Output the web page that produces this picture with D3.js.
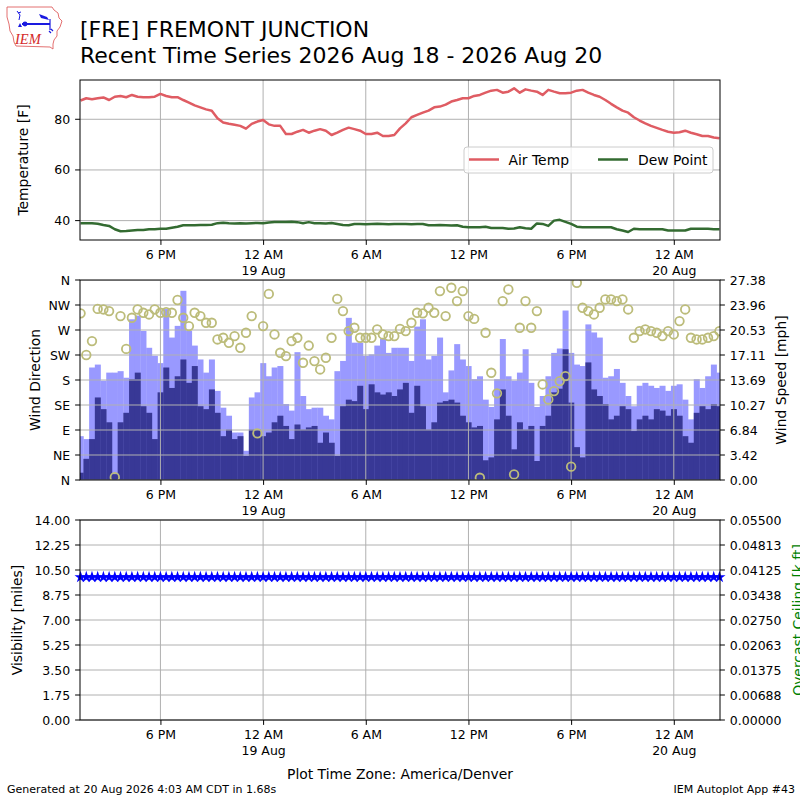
<!DOCTYPE html>
<html>
<head>
<meta charset="utf-8">
<script src="https://cdn.jsdelivr.net/npm/d3@7"></script>
<style>
  body { margin: 0; background: #fff; }
  text { font-family: "DejaVu Sans", sans-serif; }
</style>
</head>
<body>
<div id="chart"></div>
<script>
// observation times are Denver local, kept in UTC fields so the axis reads as local
const obsStartUtc = Date.UTC(2026, 7, 18, 13, 20);
const obsStepMinutes = 20;
const xDomain = [Date.UTC(2026, 7, 18, 13, 18), Date.UTC(2026, 7, 20, 2, 42)];

const airTemp = [
  87.4, 88.3, 87.9, 88.3, 88.6, 87.6, 88.9, 89.2, 88.7, 89.6,
  88.9, 88.7, 88.7, 88.9, 90.0, 89.2, 88.7, 88.7, 87.6, 86.6,
  85.5, 84.7, 83.9, 83.4, 80.4, 78.7, 78.2, 77.8, 77.4, 76.3,
  78.2, 79.1, 79.7, 78.0, 77.4, 77.4, 74.2, 74.2, 75.1, 75.8,
  74.7, 75.5, 76.1, 75.5, 73.8, 74.7, 75.8, 76.7, 76.1, 75.5,
  74.2, 74.2, 74.7, 73.4, 73.4, 73.8, 76.4, 78.4, 80.8, 81.7,
  82.6, 83.4, 84.7, 85.0, 85.8, 87.0, 87.6, 88.3, 88.3, 89.2,
  89.6, 90.5, 91.3, 91.6, 90.5, 90.9, 92.2, 90.5, 91.8, 91.3,
  90.9, 89.6, 91.6, 90.9, 90.3, 90.3, 90.5, 91.3, 91.6, 90.5,
  89.6, 88.9, 87.6, 86.1, 84.7, 83.4, 82.6, 80.8, 79.5, 78.4,
  77.4, 76.6, 75.8, 75.1, 74.7, 74.9, 75.5, 74.7, 74.1, 73.4,
  73.4, 72.8, 72.5
];
const dewPoint = [
  39.0, 39.0, 39.0, 38.8, 38.3, 37.9, 36.6, 35.8, 35.9, 36.1,
  36.3, 36.3, 36.6, 36.6, 36.8, 36.8, 37.2, 37.6, 38.2, 38.2,
  38.2, 38.3, 38.3, 38.4, 39.0, 39.2, 39.0, 38.9, 39.0, 38.9,
  39.0, 39.1, 39.0, 39.3, 39.5, 39.5, 39.5, 39.6, 39.4, 39.0,
  39.4, 39.0, 39.0, 38.9, 39.1, 38.7, 38.3, 38.2, 38.7, 38.7,
  38.6, 38.7, 38.8, 38.7, 38.6, 38.7, 38.7, 38.7, 38.6, 38.7,
  38.7, 38.2, 38.2, 38.3, 38.2, 38.1, 38.2, 37.6, 37.4, 37.4,
  37.4, 37.6, 37.1, 37.1, 37.1, 36.8, 36.9, 37.4, 37.0, 36.8,
  38.9, 38.7, 37.9, 40.0, 40.3, 39.5, 38.7, 37.6, 37.4, 37.4,
  37.4, 37.4, 37.4, 37.4, 36.6, 36.1, 35.5, 36.8, 36.6, 36.6,
  36.6, 36.6, 36.6, 36.1, 36.1, 36.1, 36.1, 36.8, 36.8, 36.8,
  36.8, 36.6, 36.6
];
const windSpeed = [
  1.0, 2.9, 5.6, 11.3, 9.7, 7.9, 0.8, 7.9, 9.2, 13.8,
  14.7, 10.1, 9.2, 5.6, 12.0, 15.4, 12.6, 14.2, 16.5, 13.3,
  15.6, 10.1, 9.7, 12.4, 9.2, 6.0, 6.9, 5.6, 6.0, 3.3,
  6.9, 6.9, 6.0, 6.5, 7.9, 8.8, 7.4, 5.6, 7.6, 6.9,
  7.2, 7.4, 5.1, 6.5, 5.1, 3.3, 10.1, 11.0, 10.8, 12.9,
  9.7, 13.1, 12.0, 11.7, 12.0, 11.5, 12.4, 13.3, 9.2, 12.9,
  10.1, 6.9, 7.9, 10.6, 10.8, 11.0, 10.6, 8.8, 7.9, 7.2,
  7.4, 2.7, 3.1, 8.3, 12.4, 8.8, 4.2, 7.9, 6.9, 7.4,
  2.6, 7.4, 8.8, 12.0, 12.5, 17.9, 10.6, 4.5, 3.1, 16.1,
  12.4, 11.5, 10.4, 8.3, 8.8, 10.1, 9.7, 6.7, 8.3, 8.8,
  8.3, 9.7, 9.5, 8.8, 9.7, 8.8, 6.0, 5.1, 9.2, 10.1,
  9.7, 10.4, 10.1
];
const windGust = [
  6.0, 5.6, 15.4, 15.8, 13.6, 14.7, 14.7, 14.9, 14.0, 22.0,
  22.5, 20.4, 18.1, 17.0, 16.0, 23.4, 19.5, 21.1, 25.9, 20.4,
  18.4, 16.5, 14.7, 16.5, 12.2, 9.9, 8.8, 6.5, 6.5, 4.0,
  11.3, 12.0, 16.0, 14.2, 15.4, 15.6, 10.4, 9.5, 17.5, 11.5,
  9.7, 9.9, 9.9, 8.8, 8.3, 14.9, 16.3, 22.2, 18.8, 18.8,
  17.0, 17.2, 18.4, 19.3, 17.4, 18.1, 18.1, 18.1, 16.3, 21.0,
  22.0, 16.5, 17.0, 19.5, 12.0, 15.0, 18.6, 16.5, 15.6, 13.8,
  14.2, 11.0, 10.0, 13.8, 19.3, 14.2, 13.6, 14.7, 17.9, 13.3,
  10.0, 11.5, 14.2, 17.4, 18.0, 23.2, 17.4, 15.8, 15.6, 21.3,
  20.2, 19.5, 14.0, 14.2, 15.2, 13.3, 11.5, 10.1, 12.9, 13.3,
  12.9, 12.6, 12.9, 12.2, 12.9, 13.1, 11.0, 8.3, 13.8, 12.6,
  14.2, 15.8, 14.7
];
const windDir = [
  300, 225, 250, 308, 307, 304, 5, 295, 236, 292,
  307, 301, 298, 307, 301, 302, 301, 324, 292, 277,
  301, 295, 283, 283, 253, 256, 247, 259, 238, 265,
  295, 84, 277, 335, 262, 229, 223, 250, 256, 211,
  242, 214, 199, 220, 256, 326, 304, 268, 274, 256,
  256, 256, 271, 262, 259, 259, 272, 268, 283, 301,
  300, 310, 301, 340, 295, 346, 322, 340, 295, 290,
  4, 265, 193, 156, 322, 343, 10, 274, 322, 274,
  304, 172, 145, 160, 178, 187, 24, 355, 310, 304,
  298, 310, 325, 325, 322, 325, 307, 256, 268, 271,
  268, 265, 259, 268, 262, 286, 307, 256, 253, 253,
  256, 259, 268
];
const visibility = [
  10, 10, 10, 10, 10, 10, 10, 10, 10, 10,
  10, 10, 10, 10, 10, 10, 10, 10, 10, 10,
  10, 10, 10, 10, 10, 10, 10, 10, 10, 10,
  10, 10, 10, 10, 10, 10, 10, 10, 10, 10,
  10, 10, 10, 10, 10, 10, 10, 10, 10, 10,
  10, 10, 10, 10, 10, 10, 10, 10, 10, 10,
  10, 10, 10, 10, 10, 10, 10, 10, 10, 10,
  10, 10, 10, 10, 10, 10, 10, 10, 10, 10,
  10, 10, 10, 10, 10, 10, 10, 10, 10, 10,
  10, 10, 10, 10, 10, 10, 10, 10, 10, 10,
  10, 10, 10, 10, 10, 10, 10, 10, 10, 10,
  10, 10, 10
];

const xTickHour = ['6 PM', '12 AM', '6 AM', '12 PM', '6 PM', '12 AM'];
const xTickDay = ['', '19 Aug', '', '', '', '20 Aug'];
const tempTicks = [40, 60, 80];
const dirTickLabels = ['N', 'NE', 'E', 'SE', 'S', 'SW', 'W', 'NW', 'N'];
const speedTickLabels = ['0.00', '3.42', '6.84', '10.27', '13.69', '17.11', '20.53', '23.96', '27.38'];
const visTickLabels = ['0.00', '1.75', '3.50', '5.25', '7.00', '8.75', '10.50', '12.25', '14.00'];
const ceilTickLabels = ['0.00000', '0.00688', '0.01375', '0.02063', '0.02750', '0.03438', '0.04125', '0.04813', '0.05500'];

function makeChart(){
  let w = 800, h = 800;
  let left = 80, right = 720;
  let font = '"DejaVu Sans", sans-serif';
  let tick = 4.9;
  let gridColor = '#b0b0b0';

  let svg = d3.select('#chart').append('svg').attr('width', w).attr('height', h);

  let times = airTemp.map((d, i) => new Date(obsStartUtc + i * obsStepMinutes * 60000));
  let x = d3.scaleUtc().domain(xDomain).range([left, right]);
  let tickTimes = x.ticks(d3.utcHour.every(6));
  let stepPx = x(times[1]) - x(times[0]);

  // ---------- header ----------
  let logo = svg.append('g');
  logo.append('path')
    .attr('d', 'M7,7 L52,7 L54,10 L58,13 L59,18 L62,21 L60,27 L57,31 L57,36 L54,40 L53,44 L53,49 L50,47 L16,46 L14,42 L13,36 L10,31 L9,24 L7,17 Z')
    .attr('fill', 'none').attr('stroke', '#e06060').attr('stroke-width', 0.9);
  logo.append('line').attr('x1', 22).attr('y1', 24).attr('x2', 50).attr('y2', 24)
    .attr('stroke', '#1a1ae0').attr('stroke-width', 2);
  logo.append('circle').attr('cx', 25).attr('cy', 24).attr('r', 2.4).attr('fill', '#1a1ae0');
  logo.append('path').attr('d', 'M18,27 L20,23 L22,27 Z').attr('fill', '#1a1ae0');
  logo.append('path').attr('d', 'M17,11 L20,15 L19,20 M18,13 L21,12').attr('stroke', '#1a1ae0').attr('fill', 'none').attr('stroke-width', 1);
  logo.append('path').attr('d', 'M39,14 L47,17 L49,20 L41,18 Z').attr('fill', '#1a1ae0');
  logo.append('path').attr('d', 'M50,19 L50,30 M51,29 L53,31 M49,31 L51,33').attr('stroke', '#1a1ae0').attr('fill', 'none').attr('stroke-width', 1.2);
  logo.append('text').attr('x', 15).attr('y', 44)
    .style('font-family', '"Liberation Serif", "DejaVu Serif", serif')
    .attr('font-style', 'italic').attr('font-size', 14.5).attr('fill', '#d42a2a')
    .text('IEM');

  svg.append('text').attr('x', 80).attr('y', 36.5).attr('font-size', 22)
    .text('[FRE] FREMONT JUNCTION');
  svg.append('text').attr('x', 80).attr('y', 63.2).attr('font-size', 22)
    .text('Recent Time Series 2026 Aug 18 - 2026 Aug 20');

  // shared helpers
  function frame(top, bottom){
    svg.append('rect').attr('x', left).attr('y', top)
      .attr('width', right - left).attr('height', bottom - top)
      .attr('fill', 'none').attr('stroke', '#000').attr('stroke-width', 1);
  }
  function vGrid(g, top, bottom){
    g.selectAll('line.vg').data(tickTimes).enter().append('line')
      .attr('x1', d => x(d)).attr('x2', d => x(d))
      .attr('y1', top).attr('y2', bottom)
      .attr('stroke', gridColor).attr('stroke-width', 1);
  }
  function hGrid(g, ys){
    g.selectAll('line.hg').data(ys).enter().append('line')
      .attr('x1', left).attr('x2', right)
      .attr('y1', d => d).attr('y2', d => d)
      .attr('stroke', gridColor).attr('stroke-width', 1);
  }
  function xAxis(yPos){
    let ax = svg.append('g').attr('transform', `translate(0, ${yPos})`)
      .call(d3.axisBottom(x).tickValues(tickTimes).tickSize(tick).tickPadding(tick)
        .tickFormat((d, i) => xTickHour[i]));
    ax.select('.domain').remove();
    ax.attr('font-family', font).attr('font-size', 12.5);
    ax.selectAll('.tick text').each(function(d, i){
      if (xTickDay[i]) d3.select(this).append('tspan').attr('x', 0).attr('dy', '1.32em').text(xTickDay[i]);
    });
  }
  function yAxisLabels(side, ys, labels, color){
    let gx = side === 'left' ? left : right;
    let g = svg.append('g');
    ys.forEach((yy, i) => {
      g.append('line')
        .attr('x1', gx).attr('x2', side === 'left' ? gx - tick : gx + tick)
        .attr('y1', yy).attr('y2', yy).attr('stroke', '#000');
      g.append('text')
        .attr('x', side === 'left' ? gx - 2 * tick : gx + 2 * tick)
        .attr('y', yy).attr('dy', '0.36em')
        .attr('text-anchor', side === 'left' ? 'end' : 'start')
        .attr('font-size', 12.5).attr('fill', color || '#000')
        .text(labels[i]);
    });
  }
  function axisTitle(xPos, yCenter, label, color){
    svg.append('text')
      .attr('transform', `translate(${xPos}, ${yCenter}) rotate(-90)`)
      .attr('text-anchor', 'middle').attr('font-size', 13.9)
      .attr('fill', color || '#000')
      .text(label);
  }

  // ---------- temperature panel ----------
  let tTop = 80, tBot = 240;
  let yTemp = d3.scaleLinear().domain([32.35, 95.5]).range([tBot, tTop]);
  let gT = svg.append('g');
  vGrid(gT, tTop, tBot);
  hGrid(gT, tempTicks.map(yTemp));

  let line = d3.line().x((d, i) => x(times[i])).y(d => yTemp(d));
  gT.append('path').datum(airTemp).attr('d', line)
    .attr('fill', 'none').attr('stroke', '#df5c63').attr('stroke-width', 2.5).attr('stroke-linejoin', 'round');
  gT.append('path').datum(dewPoint).attr('d', line)
    .attr('fill', 'none').attr('stroke', '#336b31').attr('stroke-width', 2.5).attr('stroke-linejoin', 'round');

  frame(tTop, tBot);
  yAxisLabels('left', tempTicks.map(yTemp), tempTicks.map(String));
  xAxis(tBot);
  axisTitle(27.5, (tTop + tBot) / 2, 'Temperature [F]');

  // legend
  let lg = svg.append('g');
  lg.append('rect').attr('x', 464).attr('y', 147).attr('width', 249).attr('height', 26).attr('rx', 3)
    .attr('fill', '#fff').attr('fill-opacity', 0.8).attr('stroke', '#cccccc');
  lg.append('line').attr('x1', 469).attr('x2', 499).attr('y1', 159.5).attr('y2', 159.5)
    .attr('stroke', '#df5c63').attr('stroke-width', 2.5);
  lg.append('text').attr('x', 508.5).attr('y', 164.5).attr('font-size', 13.9).text('Air Temp');
  lg.append('line').attr('x1', 598).attr('x2', 628).attr('y1', 159.5).attr('y2', 159.5)
    .attr('stroke', '#336b31').attr('stroke-width', 2.5);
  lg.append('text').attr('x', 638).attr('y', 164.5).attr('font-size', 13.9).text('Dew Point');

  // ---------- wind panel ----------
  let wTop = 280, wBot = 480;
  let speedMax = 27.38;
  let yDir = d3.scaleLinear().domain([0, 360]).range([wBot, wTop]);
  let ySpd = d3.scaleLinear().domain([0, speedMax]).range([wBot, wTop]);

  svg.append('clipPath').attr('id', 'windClip').append('rect')
    .attr('x', left).attr('y', wTop).attr('width', right - left).attr('height', wBot - wTop);
  let gW = svg.append('g').attr('clip-path', 'url(#windClip)');

  gW.selectAll('rect.gust').data(windGust).enter().append('rect')
    .attr('x', (d, i) => x(times[i]) - stepPx / 2)
    .attr('width', stepPx + 0.3)
    .attr('y', d => ySpd(d)).attr('height', d => wBot - ySpd(d))
    .attr('fill', '#9999ff');
  gW.selectAll('rect.speed').data(windSpeed).enter().append('rect')
    .attr('x', (d, i) => x(times[i]) - stepPx / 2)
    .attr('width', stepPx + 0.3)
    .attr('y', d => ySpd(d)).attr('height', d => wBot - ySpd(d))
    .attr('fill', '#383896');

  vGrid(gW, wTop, wBot);
  hGrid(gW, d3.range(9).map(i => yDir(i * 45)));

  gW.selectAll('circle').data(windDir).enter().append('circle')
    .attr('cx', (d, i) => x(times[i]))
    .attr('cy', d => yDir(d))
    .attr('r', 4.3)
    .attr('fill', 'none').attr('stroke', '#bcbc7a').attr('stroke-width', 1.8);

  frame(wTop, wBot);
  yAxisLabels('left', d3.range(9).map(i => yDir(i * 45)), dirTickLabels);
  yAxisLabels('right', d3.range(9).map(i => ySpd(i * speedMax / 8)), speedTickLabels);
  xAxis(wBot);
  axisTitle(40, (wTop + wBot) / 2, 'Wind Direction');
  axisTitle(785.5, (wTop + wBot) / 2, 'Wind Speed [mph]');

  // ---------- visibility panel ----------
  let vTop = 520, vBot = 720;
  let yVis = d3.scaleLinear().domain([0, 14]).range([vBot, vTop]);
  let yCeil = d3.scaleLinear().domain([0, 0.055]).range([vBot, vTop]);
  let gV = svg.append('g');
  vGrid(gV, vTop, vBot);
  hGrid(gV, visTickLabels.map(s => yVis(+s)));

  gV.selectAll('path.vis').data(visibility).enter().append('path')
    .attr('transform', (d, i) => `translate(${x(times[i])}, ${yVis(d)})`)
    .attr('d', d3.symbol(d3.symbolStar).size(46))
    .attr('fill', '#0000ff');

  frame(vTop, vBot);
  yAxisLabels('left', visTickLabels.map(s => yVis(+s)), visTickLabels);
  yAxisLabels('right', ceilTickLabels.map((s, i) => yCeil(i * 0.055 / 8)), ceilTickLabels);
  xAxis(vBot);
  axisTitle(22, (vTop + vBot) / 2, 'Visibility [miles]');
  axisTitle(803, (vTop + vBot) / 2, 'Overcast Ceiling [k ft]', '#008000');

  // ---------- footer ----------
  svg.append('text').attr('x', 400).attr('y', 779).attr('text-anchor', 'middle')
    .attr('font-size', 13.9).text('Plot Time Zone: America/Denver');
  svg.append('text').attr('x', 7).attr('y', 793).attr('font-size', 11)
    .text('Generated at 20 Aug 2026 4:03 AM CDT in 1.68s');
  svg.append('text').attr('x', 795).attr('y', 793).attr('text-anchor', 'end').attr('font-size', 11)
    .text('IEM Autoplot App #43');
}

window.onload = function(){
  makeChart();
}
</script>
</body>
</html>
